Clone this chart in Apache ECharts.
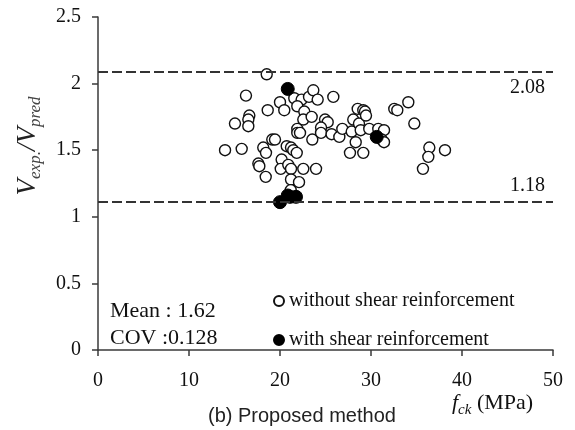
<!DOCTYPE html>
<html><head><meta charset="utf-8">
<script src="https://cdn.jsdelivr.net/npm/echarts@6/dist/echarts.min.js"></script>
<style>html,body{margin:0;padding:0;background:#fff}#c{width:575px;height:430px}</style>
</head><body><div id="c"></div>
<script>
// f_ck (MPa), V_exp/V_pred
const withoutShear = [
 [13.96,1.50],[15.05,1.70],[15.79,1.51],[16.26,1.91],[16.63,1.76],[16.52,1.73],[16.52,1.68],
 [17.62,1.40],[17.73,1.38],[18.16,1.52],[18.46,1.48],[18.43,1.30],[18.54,2.07],[18.65,1.80],
 [19.15,1.58],[19.45,1.58],[20.0,1.86],[20.47,1.80],[20.18,1.43],[20.08,1.36],[20.74,1.53],
 [21.21,1.52],[21.46,1.50],[21.84,1.48],[20.91,1.39],[21.21,1.36],[21.21,1.28],[22.09,1.26],
 [21.18,1.20],[22.56,1.36],[23.96,1.36],[21.57,1.89],[22.38,1.88],[23.19,1.90],[23.66,1.95],
 [24.14,1.88],[25.86,1.90],[21.90,1.83],[22.67,1.79],[22.56,1.73],[23.48,1.75],[24.95,1.73],
 [25.24,1.71],[21.90,1.66],[21.90,1.63],[22.20,1.63],[24.51,1.67],[24.51,1.63],[23.55,1.58],
 [25.67,1.62],[26.52,1.60],[26.85,1.66],[27.88,1.64],[28.05,1.73],[28.54,1.81],[28.68,1.70],
 [28.87,1.65],[29.15,1.80],[29.34,1.79],[29.45,1.76],[29.81,1.66],[28.32,1.56],[30.80,1.66],
 [31.43,1.65],[31.18,1.58],[31.43,1.56],[32.56,1.81],[32.89,1.80],[34.10,1.86],[34.76,1.70],
 [27.69,1.48],[29.15,1.48],[36.41,1.52],[36.30,1.45],[38.13,1.50],[35.71,1.36]
];
const withShear = [[20.85,1.96],[30.63,1.60],[20.0,1.11],[20.85,1.16],[21.76,1.15],[21.10,1.15]];
const refLines = [2.09, 1.11];
const refLabels = ['2.08', '1.18'];
const statLines = ['Mean : 1.62', 'COV :0.128'];
const seriesNames = ['without shear reinforcement', 'with shear reinforcement'];

const serif = 'Liberation Serif';
const chart = echarts.init(document.getElementById('c'), null, {renderer: 'canvas'});
chart.setOption({
  animation: false,
  backgroundColor: '#fff',
  grid: {left: 98, right: 22, top: 17, bottom: 80, containLabel: false},
  xAxis: {
    type: 'value', min: 0, max: 50, interval: 10,
    splitLine: {show: false},
    axisLine: {lineStyle: {color: '#3a3a3a', width: 1.5}},
    axisTick: {show: true, length: 6, lineStyle: {color: '#3a3a3a', width: 1.5}},
    axisLabel: {margin: 21, color: '#111', fontFamily: serif, fontSize: 20}
  },
  yAxis: {
    type: 'value', min: 0, max: 2.5, interval: 0.5,
    splitLine: {show: false},
    axisLine: {show: true, lineStyle: {color: '#3a3a3a', width: 1.5}},
    axisTick: {show: true, length: 6, lineStyle: {color: '#3a3a3a', width: 1.5}},
    axisLabel: {margin: 17, color: '#111', fontFamily: serif, fontSize: 20}
  },
  legend: {
    orient: 'vertical', left: 268, top: 286, itemGap: 19,
    itemWidth: 10, itemHeight: 10,
    textStyle: {fontFamily: serif, fontSize: 20, color: '#111'},
    data: seriesNames
  },
  series: [
    {
      name: seriesNames[0], type: 'scatter', data: withoutShear,
      symbol: 'circle', symbolSize: 11,
      itemStyle: {color: '#fff', borderColor: '#111', borderWidth: 1.4, opacity: 1},
      z: 3,
      markLine: {
        silent: true, symbol: 'none',
        lineStyle: {type: [10, 4], color: '#333', width: 1.8},
        data: refLines.map((v, i) => ({
          yAxis: v,
          label: {
            show: true, formatter: refLabels[i],
            position: i === 0 ? 'insideEndBottom' : 'insideEndTop',
            distance: [8, 6],
            fontFamily: serif, fontSize: 20, color: '#111'
          }
        }))
      }
    },
    {
      name: seriesNames[1], type: 'scatter', data: withShear,
      symbol: 'circle', symbolSize: 13,
      itemStyle: {color: '#000', borderColor: '#000', borderWidth: 1, opacity: 1},
      z: 4
    }
  ],
  graphic: [
    {type: 'text', x: 29, y: 146, rotation: Math.PI / 2, style: {
      text: '{v|V}{s|exp.}{v|/V}{s|pred}',
      align: 'center', verticalAlign: 'middle',
      rich: {
        v: {fontFamily: serif, fontStyle: 'italic', fontSize: 27, fill: '#222', lineHeight: 27, verticalAlign: 'top'},
        s: {fontFamily: serif, fontStyle: 'italic', fontSize: 17, fill: '#444', lineHeight: 30, verticalAlign: 'bottom'}
      }
    }},
    {type: 'text', left: 110, top: 300, style: {text: statLines[0], fontFamily: serif, fontSize: 22, fill: '#111'}},
    {type: 'text', left: 110, top: 327, style: {text: statLines[1], fontFamily: serif, fontSize: 22, fill: '#111'}},
    {type: 'text', left: 452, top: 392, style: {
      text: '{f|f}{s|ck}{n| (MPa)}',
      rich: {
        f: {fontFamily: serif, fontStyle: 'italic', fontSize: 22, fill: '#111', lineHeight: 23, verticalAlign: 'top'},
        s: {fontFamily: serif, fontStyle: 'italic', fontSize: 15, fill: '#111', lineHeight: 26, verticalAlign: 'bottom'},
        n: {fontFamily: serif, fontSize: 22, fill: '#111', lineHeight: 23, verticalAlign: 'top'}
      }
    }},
    {type: 'text', left: 208, top: 406, style: {text: '(b) Proposed method', fontFamily: 'Liberation Sans', fontSize: 20, fill: '#222'}}
  ]
});
</script>
</body></html>
